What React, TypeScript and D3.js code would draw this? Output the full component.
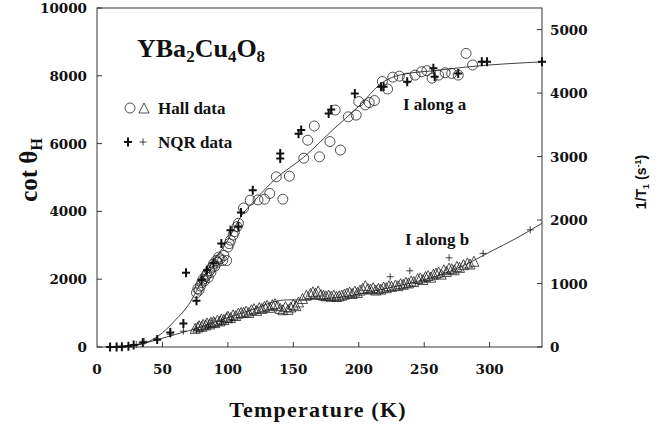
import React from 'react';
import * as d3 from 'd3';

// plot frame (pixels)
const W = 667, H = 427;
const X0 = 97, X1 = 542, Y0 = 347, Y1 = 8;

const xTicks = [0, 50, 100, 150, 200, 250, 300];
const leftTicks = [0, 2000, 4000, 6000, 8000, 10000];
const rightTicks = [0, 1000, 2000, 3000, 4000, 5000];

// fitted curves, cot theta_H units
const fitA: [number, number][] = [
  [10, 0], [20, 15], [30, 50], [40, 170], [50, 420], [60, 800], [70, 1250], [76, 1650],
  [85, 2300], [100, 3150], [110, 3850], [120, 4300], [137, 4980], [158, 5600], [180, 6400],
  [200, 7100], [218, 7800], [232, 8030], [260, 8160], [285, 8270], [340, 8410]
];
const fitB: [number, number][] = [
  [10, 10], [20, 30], [30, 70], [40, 150], [50, 260], [60, 370], [70, 480], [80, 600],
  [100, 870], [120, 1120], [135, 1330], [145, 1390], [155, 1390], [170, 1420], [185, 1460],
  [200, 1560], [220, 1720], [240, 1890], [260, 2100], [280, 2400], [300, 2800], [320, 3200], [340, 3650]
];

// Hall data, I along a (circles)
const hallA: [number, number][] = [
  [76, 1600], [77, 1720], [78, 1680], [79, 1800], [80, 1900], [81, 2000], [82, 1950], [83, 2080],
  [84, 2150], [85, 2050], [86, 2250], [87, 2200], [88, 2350], [89, 2450], [90, 2380], [91, 2550],
  [92, 2500], [93, 2650], [94, 2600], [96, 2550], [97, 2700], [99, 2550], [100, 2950], [101, 3050],
  [102, 3150], [104, 3300], [105, 3400], [107, 3550], [108, 3650], [112, 4100], [117, 4330],
  [123, 4340], [128, 4360], [132, 4530], [137, 5020], [142, 4360], [147, 5040], [158, 5570],
  [161, 6100], [166, 6520], [170, 5610], [178, 6060], [182, 6990], [186, 5810], [192, 6790],
  [198, 6840], [200, 7240], [205, 7140], [208, 7210], [212, 7270], [218, 7830], [222, 7610],
  [226, 7960], [231, 7990], [237, 7930], [243, 8020], [248, 8120], [252, 8150], [256, 7930],
  [261, 8020], [266, 8090], [271, 8070], [276, 8020], [282, 8660], [287, 8320]
];

// Hall data, I along b (triangles)
const hallB: [number, number][] = [
  [75, 520], [77, 560], [78, 600], [80, 580], [81, 640], [83, 620], [84, 680], [86, 650],
  [87, 700], [89, 720], [90, 690], [92, 760], [94, 740], [95, 800], [97, 780], [99, 840],
  [100, 880], [102, 840], [104, 920], [106, 900], [108, 970], [110, 990], [112, 1000], [114, 1030],
  [116, 990], [118, 1070], [120, 1100], [122, 1050], [124, 1130], [126, 1110], [128, 1170],
  [130, 1200], [132, 1140], [134, 1220], [136, 1250], [138, 1190], [140, 1110], [142, 1070],
  [144, 1160], [146, 1080], [148, 1150], [150, 1230], [152, 1190], [154, 1300], [157, 1400],
  [160, 1500], [163, 1550], [165, 1600], [167, 1560], [169, 1620], [171, 1520], [173, 1500],
  [175, 1480], [177, 1500], [179, 1470], [181, 1500], [183, 1460], [185, 1480], [187, 1500],
  [189, 1530], [191, 1560], [193, 1590], [195, 1550], [197, 1620], [199, 1580], [201, 1650],
  [203, 1700], [205, 1780], [207, 1700], [209, 1680], [211, 1720], [213, 1650], [215, 1700],
  [217, 1680], [219, 1740], [221, 1720], [223, 1780], [225, 1760], [228, 1800], [230, 1780],
  [232, 1840], [234, 1820], [236, 1880], [238, 1860], [240, 1920], [242, 1900], [245, 1990],
  [247, 2010], [249, 1960], [251, 2050], [253, 2080], [255, 2030], [257, 2120], [259, 2150],
  [261, 2180], [263, 2120], [265, 2250], [267, 2200], [269, 2300], [271, 2280], [273, 2250],
  [275, 2350], [277, 2320], [280, 2400], [283, 2450], [285, 2420], [288, 2500]
];

// NQR 1/T1 (s^-1), bold crosses (a) and thin crosses (b)
const nqrA: [number, number][] = [
  [10, 0], [15, 0], [19, 5], [24, 10], [28, 30], [35, 70], [46, 120], [56, 230], [66, 370],
  [68, 1170], [76, 730], [80, 1055], [84, 1210], [89, 1320], [95, 1630], [102, 1840], [108, 1900],
  [110, 2120], [119, 2470], [140, 2970], [140, 3050], [154, 3360], [156, 3420], [177, 3680],
  [179, 3740], [197, 3995], [217, 4100], [219, 4100], [237, 4180], [257, 4390], [258, 4257],
  [276, 4310], [294, 4493], [298, 4493], [340, 4493]
];
const nqrB: [number, number][] = [
  [30, 40], [36, 90], [46, 110], [56, 200], [66, 250], [76, 270], [85, 330], [95, 400],
  [103, 425], [224, 1107], [239, 1200], [269, 1405], [295, 1475], [331, 1845]
];

const x = d3.scaleLinear().domain([0, 340]).range([X0, X1]);
const yL = d3.scaleLinear().domain([0, 10000]).range([Y0, Y1]);
const yR = d3.scaleLinear().domain([0, 5340]).range([Y0, Y1]);

const serif = '"Liberation Serif", "Times New Roman", serif';
const tickFont = '"DejaVu Serif", serif';

const line = d3.line<[number, number]>()
  .x(d => x(d[0]))
  .y(d => yL(d[1]))
  .curve(d3.curveMonotoneX);

const tri = 'M0,-6L5,4L-5,4Z';

export default function App() {
  return (
    <svg width={W} height={H} style={{ position: 'absolute', left: 0, top: 0, background: '#fff' }}>
      <rect x={X0} y={Y1} width={X1 - X0} height={Y0 - Y1} fill="none" stroke="#222" strokeWidth={0.9} />

      {/* ticks */}
      {xTicks.filter(t => t > 0).map(t => (
        <line key={'xt' + t} x1={x(t)} x2={x(t)} y1={Y0} y2={Y0 - 5} stroke="#222" strokeWidth={0.9} />
      ))}
      {leftTicks.map(t => (
        <line key={'lt' + t} x1={X0} x2={X0 + 5} y1={yL(t)} y2={yL(t)} stroke="#222" strokeWidth={0.9} />
      ))}
      {rightTicks.map(t => (
        <line key={'rt' + t} x1={X1} x2={X1 - 5} y1={yR(t)} y2={yR(t)} stroke="#222" strokeWidth={0.9} />
      ))}

      {/* tick labels */}
      <g fontFamily={tickFont} fontWeight="bold" fontSize={13.5} fill="#111">
        {xTicks.map(t => (
          <text key={'xl' + t} x={x(t)} y={374} textAnchor="middle">{t}</text>
        ))}
        {leftTicks.map(t => (
          <text key={'ll' + t} x={87} y={yL(t) + 5} textAnchor="end">{t}</text>
        ))}
        {rightTicks.map(t => (
          <text key={'rl' + t} x={550} y={yR(t) + 5}>{t}</text>
        ))}
      </g>

      {/* fit curves */}
      <path d={line(fitA) || ''} fill="none" stroke="#111" strokeWidth={0.8} />
      <path d={line(fitB) || ''} fill="none" stroke="#111" strokeWidth={0.8} />

      {/* Hall data */}
      {hallA.map((d, i) => (
        <circle key={'ha' + i} cx={x(d[0])} cy={yL(d[1])} r={5} fill="none" stroke="#222" strokeWidth={0.8} />
      ))}
      {hallB.map((d, i) => (
        <path key={'hb' + i} d={tri} transform={`translate(${x(d[0])},${yL(d[1])})`} fill="none" stroke="#222" strokeWidth={0.8} />
      ))}

      {/* NQR data */}
      {nqrA.map((d, i) => (
        <path key={'na' + i} d="M-4,0H4M0,-4.5V4.5" transform={`translate(${x(d[0])},${yR(d[1])})`} stroke="#111" strokeWidth={2} />
      ))}
      {nqrB.map((d, i) => (
        <path key={'nb' + i} d="M-3.5,0H3.5M0,-3.5V3.5" transform={`translate(${x(d[0])},${yR(d[1])})`} stroke="#111" strokeWidth={0.8} />
      ))}

      {/* title and annotations */}
      <text x={137} y={57} fontFamily={serif} fontWeight="bold" fontSize={26} fill="#111">
        YBa<tspan dy={5} fontSize={17}>2</tspan><tspan dy={-5}>Cu</tspan><tspan dy={5} fontSize={17}>4</tspan><tspan dy={-5}>O</tspan><tspan dy={5} fontSize={17}>8</tspan>
      </text>

      <circle cx={130} cy={108} r={5} fill="none" stroke="#222" strokeWidth={0.8} />
      <path d={tri} transform="translate(144,109)" fill="none" stroke="#222" strokeWidth={0.8} />
      <text x={158} y={114} fontFamily={serif} fontWeight="bold" fontSize={17} fill="#111">Hall data</text>
      <path d="M-4,0H4M0,-4.5V4.5" transform="translate(128,142)" stroke="#111" strokeWidth={2} />
      <path d="M-3.5,0H3.5M0,-3.5V3.5" transform="translate(143,142)" stroke="#111" strokeWidth={0.8} />
      <text x={158} y={148} fontFamily={serif} fontWeight="bold" fontSize={17} fill="#111">NQR data</text>

      <text x={403} y={110} fontFamily={serif} fontWeight="bold" fontSize={17} fill="#111">I along a</text>
      <text x={405} y={245} fontFamily={serif} fontWeight="bold" fontSize={17} fill="#111">I along b</text>

      {/* axis titles */}
      <text x={318} y={417} textAnchor="middle" fontFamily={serif} fontWeight="bold" fontSize={22} letterSpacing={1.2} fill="#111">Temperature (K)</text>
      <text transform="translate(37,170) rotate(-90)" textAnchor="middle" fontFamily={serif} fontWeight="bold" fontSize={25} fill="#111">
        cot θ<tspan dy={5} fontSize={16}>H</tspan>
      </text>
      <text transform="translate(646,182) rotate(-90)" textAnchor="middle" fontFamily='"Liberation Sans", Arial, sans-serif' fontWeight="bold" fontSize={14} fill="#111">
        1/T<tspan dy={3} fontSize={9}>1</tspan><tspan dy={-3}> (s</tspan><tspan dy={-5} fontSize={9}>-1</tspan><tspan dy={5}>)</tspan>
      </text>
    </svg>
  );
}
